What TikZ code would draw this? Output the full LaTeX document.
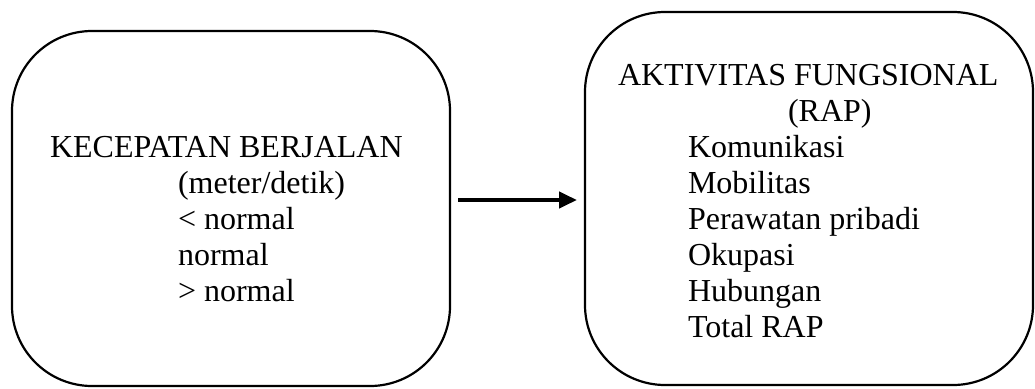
\documentclass[tikz,border=0pt]{standalone}
\usepackage{fontspec}
\setmainfont{Liberation Serif}
\usetikzlibrary{arrows.meta}

\tikzset{
  roundbox/.style={draw, line width=2.2pt, rounded corners=80pt,
    inner sep=0pt, outer sep=0pt},
  label/.style={anchor=base west, inner sep=0pt, outer sep=0pt,
    font=\fontsize{32}{36}\selectfont},
  flow/.style={line width=4pt, shorten <=8pt, shorten >=8pt,
    -{Triangle[length=18pt,width=16pt]}}
}

\begin{document}
\begin{tikzpicture}[x=1pt, y=-1pt]
  \useasboundingbox (0,0) rectangle (1035,388);

  % the two rounded frames
  \node[roundbox, minimum width=438pt, minimum height=355pt] (left) at (231,208.5) {};
  \node[roundbox, minimum width=448pt, minimum height=373pt] (right) at (809,198.5) {};

  % walking speed box
  \node[label] (kec)  at (50,157)  {KECEPATAN BERJALAN};
  \node[label] (unit) at (178,193) {(meter/detik)};
  \node[label] (lo)   at (178,229) {< normal};
  \node[label] (mid)  at (178,265) {normal};
  \node[label] (hi)   at (178,301) {> normal};

  % functional activity box
  \node[label] (akt)  at (618,85)  {AKTIVITAS FUNGSIONAL};
  \node[label] (rap)  at (788,121) {(RAP)};
  \node[label] (kom)  at (688,157) {Komunikasi};
  \node[label] (mob)  at (688,193) {Mobilitas};
  \node[label] (per)  at (688,229) {Perawatan pribadi};
  \node[label] (oku)  at (688,265) {Okupasi};
  \node[label] (hub)  at (688,301) {Hubungan};
  \node[label] (tot)  at (688,337) {Total RAP};

  % connector between the frames
  \coordinate (arrowrow) at (0,200);
  \draw[flow] (left.east |- arrowrow) -- (right.west |- arrowrow);
\end{tikzpicture}
\end{document}
